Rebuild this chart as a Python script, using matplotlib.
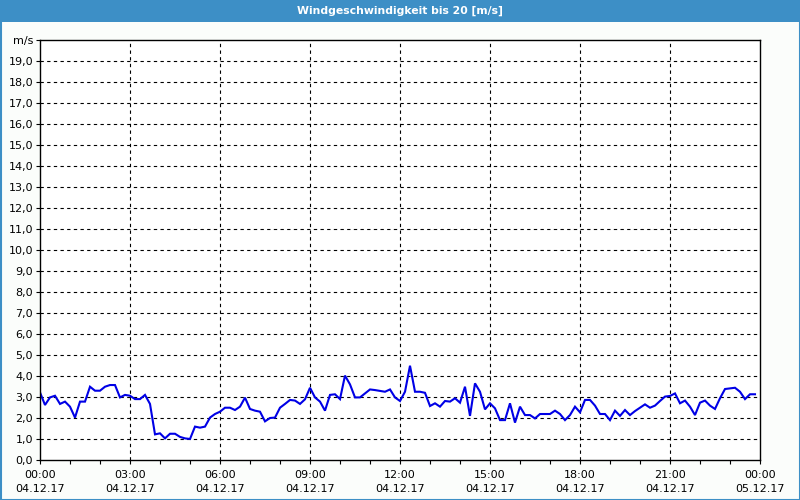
import matplotlib
matplotlib.use("Agg")
import matplotlib.pyplot as plt
from matplotlib.patches import Rectangle

# wind speed [m/s], one reading every 10 minutes from 04.12.17 00:00
step_minutes = 10
wind = [3.22, 2.62, 2.98, 3.06, 2.67, 2.78, 2.54, 2.02, 2.78, 2.78,
        3.49, 3.30, 3.30, 3.49, 3.57, 3.57, 2.98, 3.10, 3.06, 2.90,
        2.90, 3.10, 2.67, 1.22, 1.27, 1.03, 1.25, 1.25, 1.10, 1.03,
        1.00, 1.59, 1.54, 1.59, 2.02, 2.19, 2.30, 2.49, 2.49, 2.38,
        2.54, 2.97, 2.43, 2.35, 2.30, 1.84, 2.00, 2.02, 2.49, 2.67,
        2.86, 2.83, 2.67, 2.89, 3.44, 2.98, 2.78, 2.35, 3.10, 3.13,
        2.90, 4.02, 3.60, 2.98, 2.98, 3.17, 3.36, 3.33, 3.29, 3.25,
        3.36, 2.98, 2.81, 3.25, 4.49, 3.25, 3.25, 3.20, 2.57, 2.70,
        2.54, 2.81, 2.78, 2.94, 2.73, 3.49, 2.10, 3.65, 3.25, 2.41,
        2.70, 2.46, 1.90, 1.90, 2.70, 1.78, 2.54, 2.14, 2.14, 1.98,
        2.19, 2.19, 2.19, 2.35, 2.19, 1.90, 2.14, 2.54, 2.27, 2.86,
        2.86, 2.59, 2.19, 2.19, 1.90, 2.35, 2.10, 2.38, 2.14, 2.33,
        2.49, 2.65, 2.49, 2.59, 2.81, 3.02, 3.05, 3.17, 2.70, 2.83,
        2.54, 2.14, 2.73, 2.83, 2.59, 2.43, 2.94, 3.38, 3.41, 3.44,
        3.25, 2.90, 3.13, 3.13]
hours = [i * step_minutes / 60 for i in range(len(wind))]

tick_hours = [0, 3, 6, 9, 12, 15, 18, 21, 24]
tick_times = ["00:00", "03:00", "06:00", "09:00", "12:00", "15:00", "18:00", "21:00", "00:00"]
tick_dates = ["04.12.17"] * 8 + ["05.12.17"]
y_ticks = list(range(0, 21))
y_labels = ["%d,0" % v for v in range(0, 20)] + ["m/s"]

title = "Windgeschwindigkeit bis 20 [m/s]"
bar_blue = "#3d8fc6"

fig = plt.figure(figsize=(8, 5), dpi=100, facecolor="#fbfdfb")
ax = fig.add_axes([40 / 800, 40 / 500, 720 / 800, 420 / 500])
ax.set_facecolor("white")

ax.plot(hours, wind, color="#0000e6", lw=1.5, solid_joinstyle="miter")

ax.set_xlim(0, 24)
ax.set_ylim(0, 20)
ax.set_yticks(y_ticks)
ax.set_yticklabels(y_labels)
ax.set_xticks(tick_hours)
ax.set_xticklabels([t + "\n" + d for t, d in zip(tick_times, tick_dates)],
                   linespacing=1.55)
ax.set_xticks(range(0, 25), minor=True)
ax.tick_params(axis="both", labelsize=8, colors="black", length=3, width=0.8)
ax.tick_params(axis="x", which="minor", length=3, width=0.8)
ax.tick_params(axis="y", pad=2)
ax.tick_params(axis="x", pad=4)

for v in y_ticks[1:-1]:
    ax.axhline(v, color="black", lw=0.8, ls=(0, (3, 3)), zorder=1)
for h in tick_hours[1:-1]:
    ax.axvline(h, color="black", lw=0.8, ls=(0, (3, 3)), zorder=1)
for s in ax.spines.values():
    s.set_linewidth(1.0)

# blue title bar and window frame
fig.patches.append(Rectangle((0, 478 / 500), 1, 22 / 500, transform=fig.transFigure,
                             facecolor=bar_blue, edgecolor="none", zorder=0))
fig.patches.append(Rectangle((0.5 / 800, 0.5 / 500), 799 / 800, 499 / 500,
                             transform=fig.transFigure, facecolor="none",
                             edgecolor=bar_blue, lw=1.5, zorder=5))
fig.text(0.5, 489 / 500, title, color="white", fontsize=7.8, fontweight="bold",
         ha="center", va="center")

fig.savefig("out.png", dpi=100, facecolor=fig.get_facecolor())
